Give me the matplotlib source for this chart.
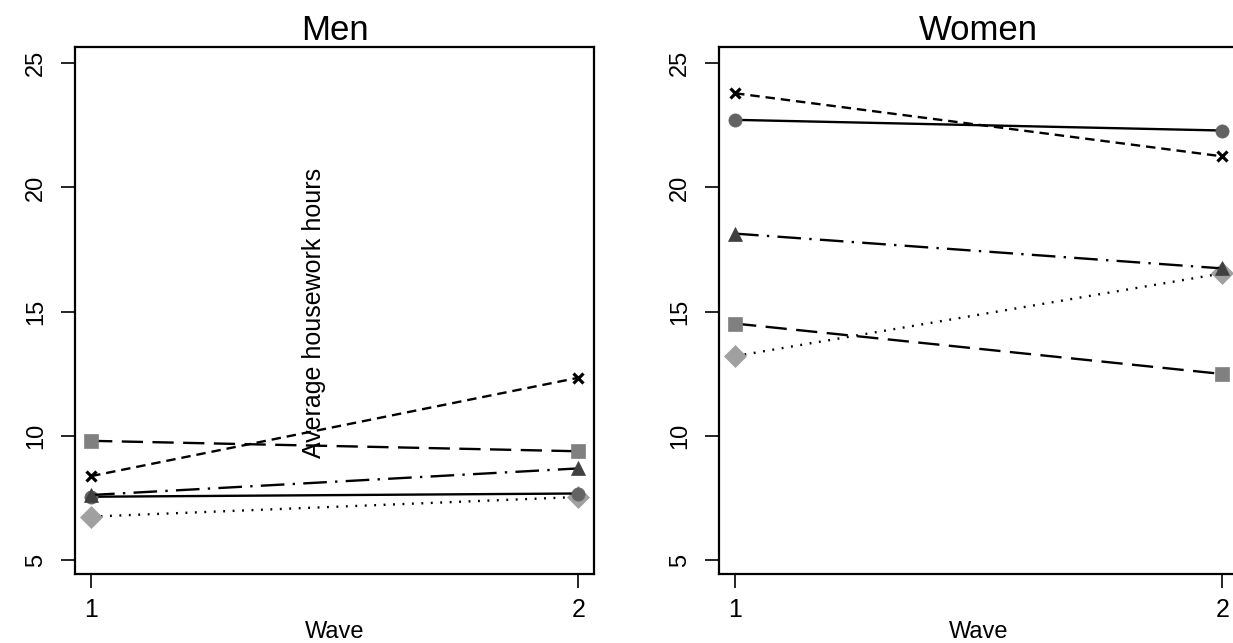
import matplotlib
matplotlib.use("Agg")
import matplotlib.pyplot as plt

plt.rcParams["font.family"] = ["Liberation Sans", "DejaVu Sans"]

waves = [1, 2]
y_ticks = [5, 10, 15, 20, 25]

# average housework hours per group, wave 1 -> wave 2
men_circle = [7.55, 7.68]
men_square = [9.80, 9.38]
men_cross = [8.38, 12.34]
men_triangle = [7.62, 8.69]
men_diamond = [6.75, 7.54]

women_circle = [22.72, 22.29]
women_square = [14.52, 12.49]
women_cross = [23.79, 21.25]
women_triangle = [18.14, 16.74]
women_diamond = [13.21, 16.54]

# marker, marker colour, marker size, dash pattern (in linewidth units)
styles = {
    "circle": ("o", "#636363", 9.5, "-"),
    "square": ("s", "#808080", 9.5, (0, (9, 4))),
    "cross": ("x", "#000000", 7.5, (0, (4, 2.5))),
    "triangle": ("^", "#404040", 10.5, (0, (10, 3.5, 1, 3.5))),
    "diamond": ("D", "#a0a0a0", 11.5, (0, (0.8, 3.2))),
}

fig = plt.figure(figsize=(12.33, 6.43), dpi=100)
ax_w = 519 / 1233
ax_h = (574 - 47.3) / 643
ax_b = 1 - 574 / 643
ax_men = fig.add_axes([75 / 1233, ax_b, ax_w, ax_h])
ax_women = fig.add_axes([719 / 1233, ax_b, ax_w, ax_h])


def draw_panel(ax, title, series):
    for key, vals in series:
        marker, mcol, ms, ls = styles[key]
        ax.plot(waves, vals, color="black", linestyle=ls, linewidth=1.7,
                marker=marker, markersize=ms, markerfacecolor=mcol,
                markeredgecolor=mcol,
                markeredgewidth=2.3 if marker == "x" else 0.5,
                clip_on=False)
    ax.set_xlim(0.967, 2.032)
    ax.set_ylim(4.44, 25.64)
    ax.set_xticks(waves)
    ax.set_yticks(y_ticks)
    ax.set_yticklabels([str(t) for t in y_ticks], rotation=90, va="center")
    ax.tick_params(axis="both", direction="out", length=10, width=1.2, pad=10)
    ax.tick_params(axis="y", labelsize=17)
    ax.tick_params(axis="x", labelsize=18, pad=7)
    for s in ax.spines.values():
        s.set_linewidth(1.6)
    ax.set_title(title, fontsize=25, pad=3)
    ax.set_xlabel("Wave", fontsize=17)
    ax.xaxis.set_label_coords(0.5, -0.09)


draw_panel(ax_men, "Men", [
    ("diamond", men_diamond),
    ("circle", men_circle),
    ("triangle", men_triangle),
    ("square", men_square),
    ("cross", men_cross),
])
draw_panel(ax_women, "Women", [
    ("diamond", women_diamond),
    ("circle", women_circle),
    ("triangle", women_triangle),
    ("square", women_square),
    ("cross", women_cross),
])

fig.text(314 / 1233, 1 - 313 / 643, "Average housework hours", rotation=90,
         ha="center", va="center", fontsize=18)

fig.savefig("out.png", dpi=100)
